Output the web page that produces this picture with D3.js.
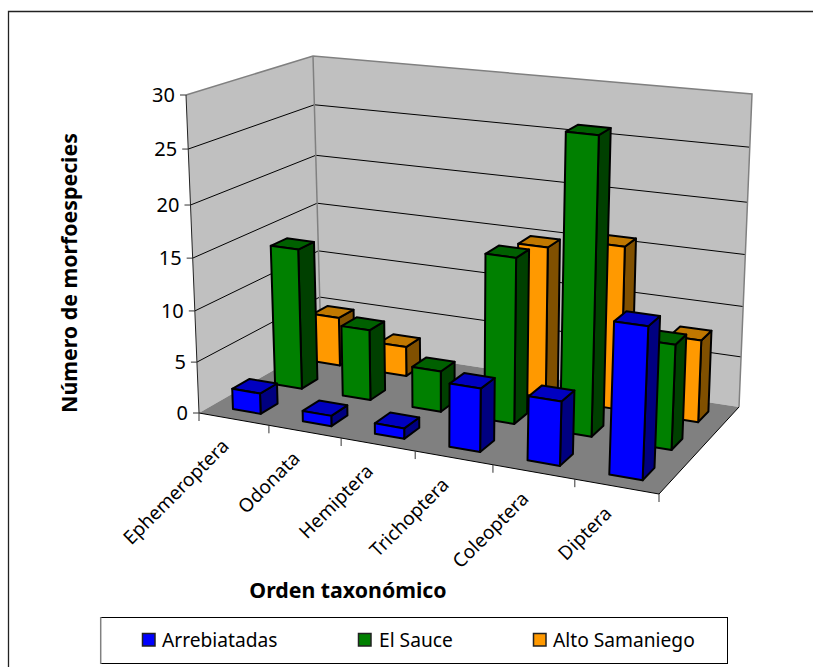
<!DOCTYPE html>
<html><head><meta charset="utf-8">
<script src="https://cdnjs.cloudflare.com/ajax/libs/d3/7.8.5/d3.min.js"></script>
<style>html,body{margin:0;padding:0;background:#fff}svg{display:block}</style>
</head><body><svg id="c" width="813" height="667"></svg>
<script>
const categories = ["Ephemeroptera","Odonata","Hemiptera","Trichoptera","Coleoptera","Diptera"];
const seriesNames = ["Arrebiatadas","El Sauce","Alto Samaniego"];
const arrebiatadas = [2,1,1,6,6,14];
const elSauce = [14,7,4,16,28,10];
const altoSamaniego = [5,3,0,15,16,8];
const yTicks = [0,5,10,15,20,25,30];
const faceColors = ["#0000ff","#008000","#ff9900"];
const sideColors = ["#000080","#004000","#805000"];
const topColors = ["#0000c0","#006000","#c07800"];

const F = "Noto Sans, sans-serif";
const svg = d3.select("#c");

const C = {
  flb:[199,413], flt:[186,95], blb:[321,343], blt:[313,56],
  brb:[739,407], brt:[752,94], frb:[659,494], frt:[673,150]
};
const uScale = d3.scaleLinear().domain([0,1,2,3,4,5,6]).range([0,.152,.309,.470,.639,.817,1]);
const vScale = d3.scaleLinear().domain([0,1,2,3]).range([0,.36,.69,1]);
const wScale = d3.scaleLinear().domain(yTicks).range([0,.16,.321,.487,.654,.83,1]);
const mix = d3.interpolateNumber;
function lerp(a,b,t){return [mix(a[0],b[0])(t),mix(a[1],b[1])(t)];}
function P(cat,row,val){
  const u=uScale(cat),v=vScale(row),w=wScale(val);
  const fb=lerp(C.flb,C.frb,u), ft=lerp(C.flt,C.frt,u), bb=lerp(C.blb,C.brb,u), bt=lerp(C.blt,C.brt,u);
  return lerp(lerp(fb,ft,w),lerp(bb,bt,w),v);
}
const poly = d3.line();
const closed = pts => poly(pts)+"Z";

svg.append("path").attr("d",closed([P(0,3,0),P(6,3,0),P(6,3,30),P(0,3,30)])).attr("fill","#c0c0c0");
svg.append("path").attr("d",closed([P(0,0,0),P(0,3,0),P(0,3,30),P(0,0,30)])).attr("fill","#c0c0c0");
svg.append("path").attr("d",closed([P(0,0,0),P(6,0,0),P(6,3,0),P(0,3,0)])).attr("fill","#808080");

yTicks.filter(t=>t>0&&t<30).forEach(t=>{
  svg.append("path").attr("d",poly([P(0,0,t),P(0,3,t),P(6,3,t)])).attr("fill","none").attr("stroke","#000").attr("stroke-width",1);
});
svg.append("path").attr("d",poly([P(0,0,30),P(0,3,30),P(6,3,30),P(6,3,0)])).attr("fill","none").attr("stroke","#808080").attr("stroke-width",1.5);
svg.append("path").attr("d",poly([P(0,3,30),P(0,3,0)])).attr("fill","none").attr("stroke","#808080").attr("stroke-width",1.5);

svg.append("path").attr("d",poly([P(0,0,0),P(6,0,0),P(6,3,0)])).attr("fill","none").attr("stroke","#000").attr("stroke-width",1);
svg.append("path").attr("d",poly([P(0,0,30),P(0,0,0)])).attr("fill","none").attr("stroke","#222").attr("stroke-width",1);

yTicks.forEach(t=>{
  const p=P(0,0,t);
  svg.append("line").attr("x1",p[0]-6).attr("x2",p[0]).attr("y1",p[1]).attr("y2",p[1]).attr("stroke","#333");
  svg.append("text").attr("x",p[0]-11).attr("y",p[1]+7).attr("text-anchor","end")
    .attr("font-family",F).attr("font-size",20).attr("fill","#000").text(t);
});
d3.range(0,7).forEach(i=>{
  const p=P(i,0,0);
  svg.append("line").attr("x1",p[0]).attr("x2",p[0]).attr("y1",p[1]).attr("y2",p[1]+8).attr("stroke","#333");
});
categories.forEach((c,i)=>{
  const p=P(i+.5,0,0);
  svg.append("text").attr("transform",`translate(${p[0]-4},${p[1]+28}) rotate(-45)`)
    .attr("text-anchor","end").attr("font-family",F).attr("font-size",19).attr("fill","#000").text(c);
});

[altoSamaniego,elSauce,arrebiatadas].forEach((vals)=>{
  const r=[arrebiatadas,elSauce,altoSamaniego].indexOf(vals);
  vals.forEach((val,i)=>{
    if(val<=0) return;
    const a=i+.3,b=i+.7,f=r+.3,k=r+.7;
    const g=svg.append("g").attr("stroke","#000").attr("stroke-width",2).attr("stroke-linejoin","round");
    g.append("path").attr("d",closed([P(b,f,0),P(b,k,0),P(b,k,val),P(b,f,val)])).attr("fill",sideColors[r]);
    g.append("path").attr("d",closed([P(a,f,val),P(b,f,val),P(b,k,val),P(a,k,val)])).attr("fill",topColors[r]);
    g.append("path").attr("d",closed([P(a,f,0),P(b,f,0),P(b,f,val),P(a,f,val)])).attr("fill",faceColors[r]);
  });
});

svg.append("text").attr("transform","translate(77,273) rotate(-90)").attr("text-anchor","middle")
  .attr("font-family",F).attr("font-weight","bold").attr("font-size",21.3).text("Número de morfoespecies");
svg.append("text").attr("x",348).attr("y",598).attr("text-anchor","middle")
  .attr("font-family",F).attr("font-weight","bold").attr("font-size",21.3).text("Orden taxonómico");

svg.append("path").attr("d","M8.5,667V11.5H813").attr("fill","none").attr("stroke","#222").attr("stroke-width",1.3);

svg.append("rect").attr("x",100.5).attr("y",617.5).attr("width",627).attr("height",46).attr("fill","#fff").attr("stroke","#000");
svg.append("path").attr("d","M100.7,617V664").attr("stroke","#808080").attr("stroke-width",1.5);
const legendX=[142,358,533], legendTx=[162,379,553];
seriesNames.forEach((s,i)=>{
  svg.append("rect").attr("x",legendX[i]+.5).attr("y",633.5).attr("width",12.5).attr("height",12.5)
    .attr("fill",faceColors[i]).attr("stroke","#222").attr("stroke-width",1.5);
  svg.append("text").attr("x",legendTx[i]).attr("y",647).attr("font-family",F).attr("font-size",19.2).attr("fill","#000").text(s);
});
</script></body></html>
